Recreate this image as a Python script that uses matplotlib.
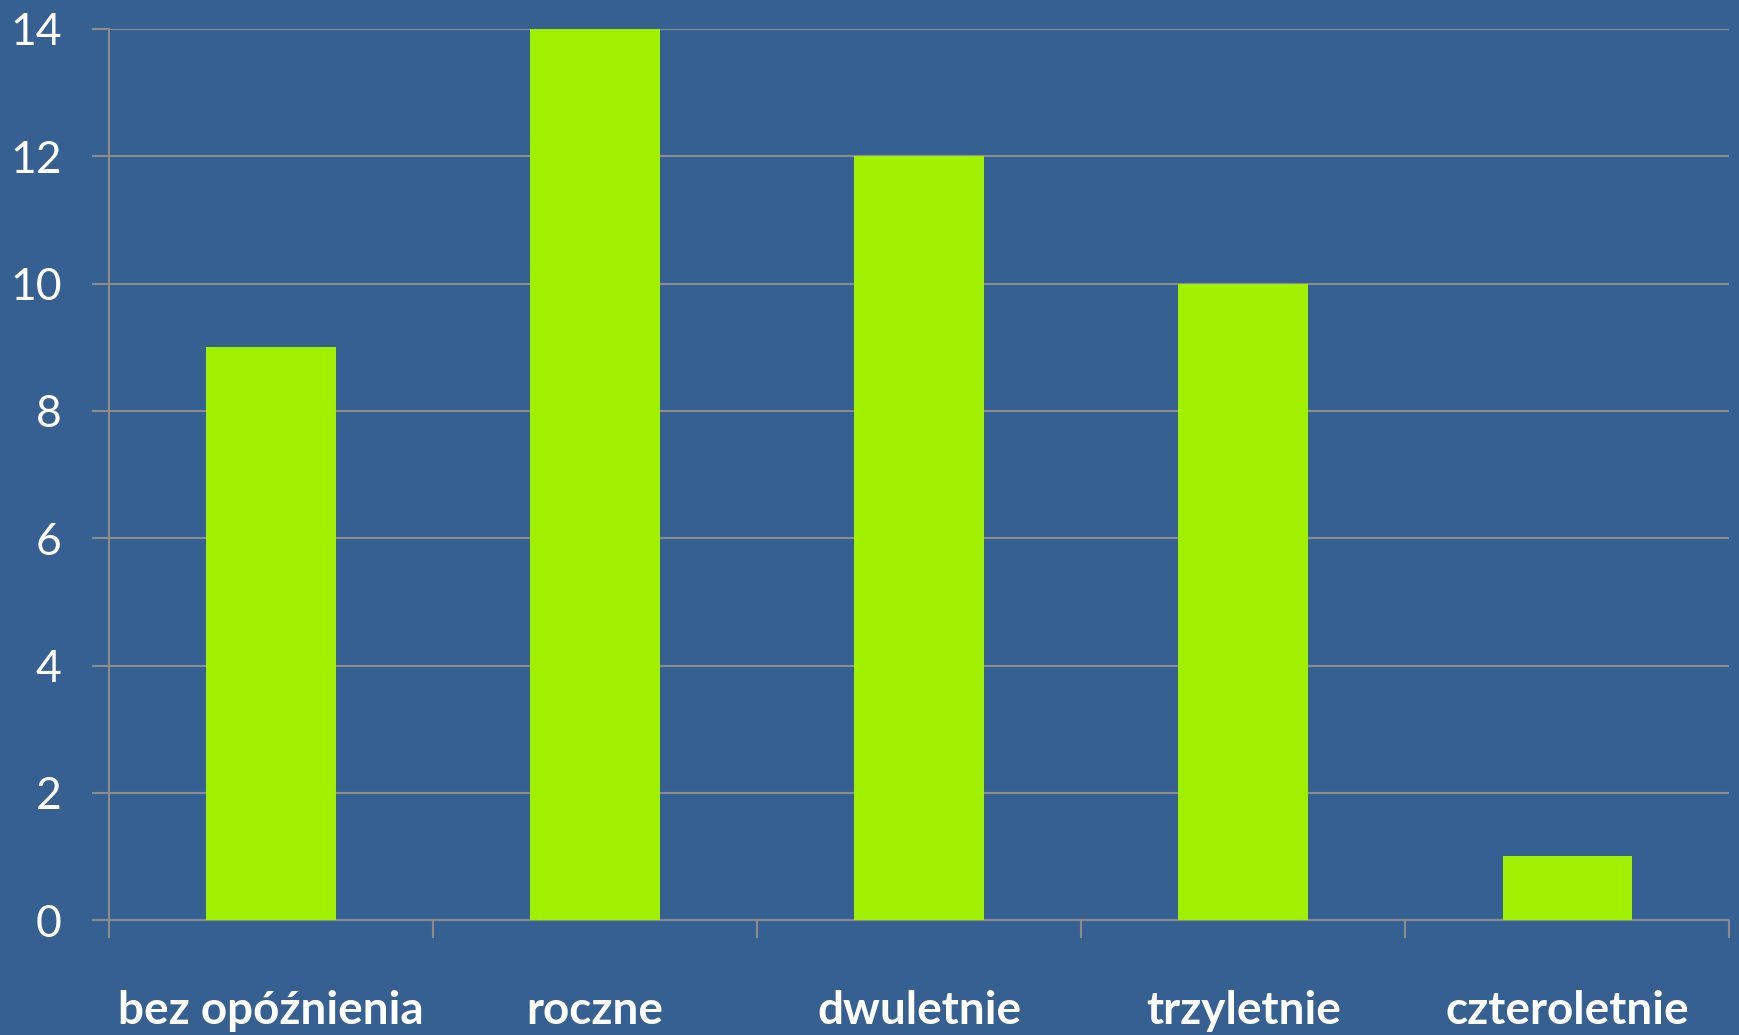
import matplotlib.pyplot as plt
import numpy as np

categories = ['bez opóźnienia', 'roczne', 'dwuletnie', 'trzyletnie', 'czteroletnie']
values = [9, 14, 12, 10, 1]

bg = '#366092'
bar_color = '#a0f000'
line_color = '#8c8c8c'

fig = plt.figure(figsize=(17.39, 10.35), dpi=100)
fig.patch.set_facecolor(bg)
ax = fig.add_axes([0.0627, 0.111, 0.9318, 0.861])
ax.set_facecolor(bg)

x = np.arange(len(categories))
ax.bar(x, values, width=0.4, color=bar_color, zorder=3)

ax.set_xlim(-0.5, len(categories) - 0.5)
ax.set_ylim(0, 14)
ax.set_yticks(np.arange(0, 15, 2))
ax.yaxis.grid(True, color=line_color, linewidth=1.5, zorder=0)

# category boundaries as major ticks, labels on minor ticks
ax.set_xticks(np.arange(-0.5, len(categories), 1.0))
ax.set_xticklabels([])
ax.set_xticks(x, minor=True)
ax.set_xticklabels(categories, minor=True, fontsize=33, fontweight='bold',
                   color='white', family=['Lato', 'DejaVu Sans'])
ax.tick_params(axis='x', which='major', length=13, width=1.5, color=line_color, direction='out')
ax.tick_params(axis='x', which='minor', length=0, pad=50)
ax.tick_params(axis='y', length=12, width=1.5, color=line_color, pad=22,
               labelsize=32, labelcolor='white')
for lab in ax.get_yticklabels():
    lab.set_family(['Lato', 'DejaVu Sans'])

for side in ['top', 'right']:
    ax.spines[side].set_visible(False)
for side in ['left', 'bottom']:
    ax.spines[side].set_color(line_color)
    ax.spines[side].set_linewidth(1.5)

fig.savefig('out.png', dpi=100, facecolor=bg)
